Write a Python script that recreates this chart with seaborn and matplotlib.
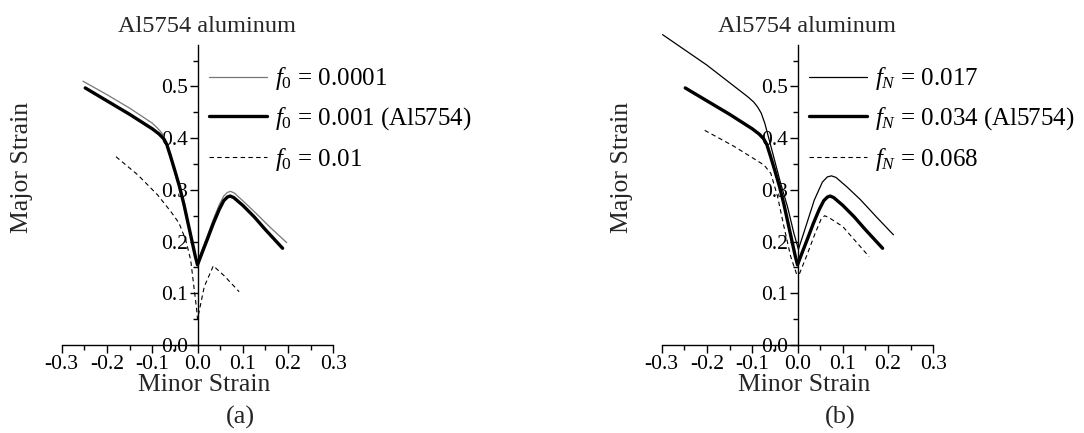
import numpy as np
import seaborn as sns
import matplotlib.pyplot as plt
from matplotlib.ticker import FixedLocator, FixedFormatter, MultipleLocator

sns.set_theme(style="ticks")
plt.rcParams['font.family'] = ['Liberation Serif', 'DejaVu Serif']
plt.rcParams['mathtext.fontset'] = 'custom'
plt.rcParams['mathtext.rm'] = 'Liberation Serif'
plt.rcParams['mathtext.it'] = 'Liberation Serif:italic'
plt.rcParams['axes.unicode_minus'] = False

# x ticks / labels
x_ticks = [-0.3, -0.2, -0.1, 0.0, 0.1, 0.2, 0.3]
x_labels = ["-0.3", "-0.2", "-0.1", "0.0", "0.1", "0.2", "0.3"]
y_ticks = [0.0, 0.1, 0.2, 0.3, 0.4, 0.5]
y_labels = ["0.0", "0.1", "0.2", "0.3", "0.4", "0.5"]

# baseline Al5754 curve (thick), same in both panels
base_x = [-0.248, -0.2, -0.15, -0.1, -0.085, -0.075, -0.068, -0.060, -0.050, -0.040, -0.030,
          -0.020, -0.012, -0.005, 0.0, 0.010, 0.022, 0.035, 0.048, 0.058, 0.066, 0.072,
          0.080, 0.100, 0.125, 0.150, 0.188]
base_y = [0.497, 0.472, 0.446, 0.418, 0.408, 0.399, 0.388, 0.366, 0.337, 0.307, 0.272,
          0.232, 0.200, 0.172, 0.155, 0.178, 0.205, 0.235, 0.262, 0.279, 0.286, 0.288,
          0.285, 0.270, 0.248, 0.223, 0.187]

# panel (a): f0 = 0.0001
a1_x = [-0.253, -0.2, -0.15, -0.1, -0.088, -0.079, -0.071, -0.062, -0.052, -0.042, -0.032,
        -0.022, -0.013, -0.006, 0.0, 0.010, 0.022, 0.035, 0.048, 0.058, 0.066, 0.073,
        0.081, 0.100, 0.130, 0.160, 0.197]
a1_y = [0.510, 0.484, 0.458, 0.429, 0.419, 0.410, 0.397, 0.372, 0.340, 0.309, 0.274,
        0.235, 0.203, 0.177, 0.160, 0.184, 0.212, 0.243, 0.271, 0.288, 0.295, 0.297,
        0.294, 0.279, 0.254, 0.228, 0.198]
# panel (a): f0 = 0.01
a3_x = [-0.180, -0.132, -0.088, -0.059, -0.041, -0.026, -0.015, -0.008, -0.002, 0.0,
        0.006, 0.015, 0.035, 0.060, 0.092]
a3_y = [0.364, 0.329, 0.290, 0.258, 0.236, 0.203, 0.164, 0.113, 0.070, 0.050,
        0.075, 0.113, 0.153, 0.133, 0.103]

# panel (b): fN = 0.017
b1_x = [-0.298, -0.2, -0.110, -0.097, -0.088, -0.080, -0.072, -0.062, -0.050, -0.038,
        -0.022, -0.008, 0.002, 0.018, 0.037, 0.055, 0.066, 0.075, 0.085, 0.110, 0.139, 0.175, 0.212]
b1_y = [0.600, 0.541, 0.480, 0.470, 0.460, 0.448, 0.428, 0.395, 0.355, 0.315,
        0.267, 0.216, 0.185, 0.228, 0.280, 0.315, 0.325, 0.327, 0.324, 0.305, 0.281, 0.247, 0.213]
# panel (b): fN = 0.068
b3_x = [-0.205, -0.140, -0.074, -0.059, -0.044, -0.030, -0.015, -0.002, 0.004,
        0.020, 0.039, 0.052, 0.060, 0.070, 0.100, 0.158]
b3_y = [0.415, 0.384, 0.348, 0.332, 0.287, 0.229, 0.171, 0.137, 0.137,
        0.172, 0.216, 0.243, 0.250, 0.246, 0.229, 0.171]

labels_a = [r"$f_0$ = 0.0001", r"$f_0$ = 0.001 (Al5754)", r"$f_0$ = 0.01"]
labels_b = [r"$f_N$ = 0.017", r"$f_N$ = 0.034 (Al5754)", r"$f_N$ = 0.068"]

fig = plt.figure(figsize=(10.84, 4.33), dpi=100)
W, H = 1084, 433
ax_a = fig.add_axes([61.7 / W, 1 - 345 / H, 271.6 / W, 300 / H])
ax_b = fig.add_axes([661.7 / W, 1 - 345 / H, 271.6 / W, 300 / H])


def draw(ax, series, labels, thin_color, tag):
    styles = [dict(color=thin_color, lw=0.9, ls='-'),
              dict(color='black', lw=2.4, ls='-'),
              dict(color='black', lw=0.8, ls=(0, (4, 3)))]
    for (xs, ys), lab, st in zip(series, labels, styles):
        sns.lineplot(x=xs, y=ys, ax=ax, sort=False, estimator=None, label=lab,
                     color=st['color'], linewidth=st['lw'], linestyle=st['ls'])
    for ln in ax.get_lines():
        ln.set_clip_on(False)
    ax.set_xlim(-0.3, 0.3)
    ax.set_ylim(0, 0.58)
    ax.spines['left'].set_position(('data', 0))
    ax.spines['right'].set_visible(False)
    ax.spines['top'].set_visible(False)
    for s in ['left', 'bottom']:
        ax.spines[s].set_color('black')
        ax.spines[s].set_linewidth(1.0)
    ax.xaxis.set_major_locator(FixedLocator(x_ticks))
    ax.xaxis.set_major_formatter(FixedFormatter(x_labels))
    ax.yaxis.set_major_locator(FixedLocator(y_ticks))
    ax.yaxis.set_major_formatter(FixedFormatter(y_labels))
    ax.xaxis.set_minor_locator(MultipleLocator(0.05))
    ax.yaxis.set_minor_locator(MultipleLocator(0.05))
    ax.tick_params(which='both', direction='out', color='black', width=1.0,
                   labelsize=15.5, labelcolor='black')
    ax.tick_params(which='major', length=6, pad=1)
    ax.tick_params(which='minor', length=3.5)
    ax.set_xlabel("")
    ax.set_ylabel("")
    ax.grid(False)
    ax.patch.set_alpha(0)
    leg = ax.legend(loc='upper left', bbox_to_anchor=(0.542, 0.932), frameon=False,
                    fontsize=18, handlelength=2.32, handletextpad=0.32,
                    labelspacing=0.53, borderpad=0, borderaxespad=0)
    for t in leg.get_texts():
        t.set_color('black')
    ax.text(0.535, 1.063, "Al5754 aluminum", transform=ax.transAxes,
            ha='center', va='center', fontsize=17.5)
    ax.text(0.524, -0.133, "Minor Strain", transform=ax.transAxes,
            ha='center', va='center', fontsize=18.5)
    ax.text(-0.146, 0.593, "Major Strain", transform=ax.transAxes,
            ha='center', va='center', fontsize=18.5, rotation=90)
    ax.text(0.657, -0.243, tag, transform=ax.transAxes,
            ha='center', va='center', fontsize=19)


draw(ax_a, [(a1_x, a1_y), (base_x, base_y), (a3_x, a3_y)], labels_a, '#777777', "(a)")
draw(ax_b, [(b1_x, b1_y), (base_x, base_y), (b3_x, b3_y)], labels_b, 'black', "(b)")

plt.savefig("out.png", dpi=100)
